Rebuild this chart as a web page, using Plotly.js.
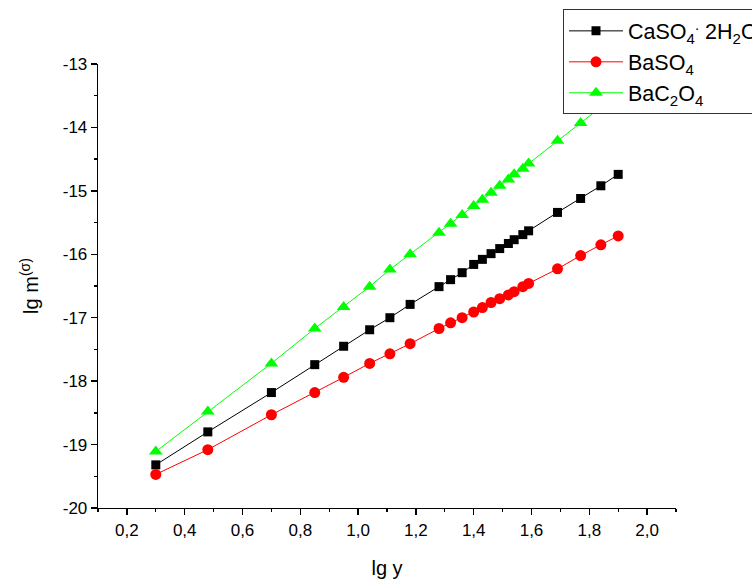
<!DOCTYPE html>
<html>
<head>
<meta charset="utf-8">
<script src="https://cdn.plot.ly/plotly-3.0.1.min.js"></script>
<style>html,body{margin:0;padding:0;background:#fff;overflow:hidden;}#chart{width:752px;height:583px;}</style>
</head>
<body>
<div id="chart"></div>
<script>
// lg y values (shared by all series)
var lgY = [0.30, 0.48, 0.70, 0.85, 0.95, 1.04, 1.11, 1.18, 1.28, 1.32, 1.36, 1.40, 1.43, 1.46, 1.49, 1.52, 1.54, 1.57, 1.59, 1.69, 1.77, 1.84, 1.90];

var caso4 = [-19.32, -18.80, -18.18, -17.74, -17.45, -17.19, -17.00, -16.79, -16.51, -16.40, -16.29, -16.16, -16.08, -15.99, -15.91, -15.83, -15.77, -15.69, -15.63, -15.34, -15.12, -14.92, -14.74];
var baso4 = [-19.47, -19.08, -18.53, -18.18, -17.94, -17.72, -17.57, -17.41, -17.17, -17.08, -17.00, -16.91, -16.84, -16.76, -16.70, -16.64, -16.59, -16.51, -16.46, -16.23, -16.02, -15.85, -15.71];
var bac2o4 = [-19.11, -18.48, -17.72, -17.17, -16.83, -16.51, -16.24, -16.00, -15.66, -15.52, -15.38, -15.24, -15.14, -15.03, -14.92, -14.82, -14.74, -14.65, -14.57, -14.21, -13.93, -13.68, -13.47];

var seriesNames = ["CaSO<sub>4</sub><sup>.</sup> 2H<sub>2</sub>O", "BaSO<sub>4</sub>", "BaC<sub>2</sub>O<sub>4</sub>"];

var xTickVals = [0.2, 0.4, 0.6, 0.8, 1.0, 1.2, 1.4, 1.6, 1.8, 2.0];
var xTickText = ["0,2", "0,4", "0,6", "0,8", "1,0", "1,2", "1,4", "1,6", "1,8", "2,0"];
var yTickVals = [-20, -19, -18, -17, -16, -15, -14, -13];
var yTickText = ["-20", "-19", "-18", "-17", "-16", "-15", "-14", "-13"];

var font = "Arial, 'Liberation Sans', sans-serif";

var traces = [
  {x: lgY, y: caso4, name: seriesNames[0], mode: "lines+markers", type: "scatter",
   line: {color: "#000000", width: 1}, marker: {symbol: "square", size: 9, color: "#000000"}},
  {x: lgY, y: baso4, name: seriesNames[1], mode: "lines+markers", type: "scatter",
   line: {color: "#ff0000", width: 1}, marker: {symbol: "circle", size: 11, color: "#ff0000"}},
  {x: lgY, y: bac2o4, name: seriesNames[2], mode: "lines+markers", type: "scatter",
   line: {color: "#00ff00", width: 1}, marker: {symbol: "triangle-up", size: 12, color: "#00ff00"}}
];

var layout = {
  width: 752, height: 583,
  margin: {l: 98, r: 76, t: 64, b: 75, autoexpand: false},
  paper_bgcolor: "#ffffff", plot_bgcolor: "#ffffff",
  font: {family: font, size: 17, color: "#000"},
  showlegend: true,
  legend: {
    x: 0.8045, y: 1.123, xanchor: "left", yanchor: "top",
    bgcolor: "#ffffff", bordercolor: "#333", borderwidth: 1,
    font: {family: font, size: 21.5, color: "#000"},
    itemwidth: 54, tracegroupgap: 0
  },
  xaxis: {
    range: [0.1, 2.1], showgrid: false, zeroline: false, automargin: false,
    showline: true, linecolor: "#000", linewidth: 1.3, mirror: false,
    ticks: "outside", ticklen: 6, tickwidth: 1.3, tickcolor: "#000",
    tickmode: "array", tickvals: xTickVals, ticktext: xTickText,
    tickfont: {family: font, size: 17, color: "#000"},
    minor: {tickmode: "linear", tick0: 0.1, dtick: 0.1, ticks: "outside", ticklen: 3, tickwidth: 1.3, tickcolor: "#000", showgrid: false},
    title: {text: "lg y", font: {family: font, size: 20, color: "#000"}, standoff: 22}
  },
  yaxis: {
    range: [-20, -13], showgrid: false, zeroline: false, automargin: false,
    showline: true, linecolor: "#000", linewidth: 1.3, mirror: false,
    ticks: "outside", ticklen: 6, tickwidth: 1.3, tickcolor: "#000",
    tickmode: "array", tickvals: yTickVals, ticktext: yTickText,
    tickfont: {family: font, size: 17, color: "#000"},
    minor: {tickmode: "linear", tick0: -20, dtick: 0.5, ticks: "outside", ticklen: 3, tickwidth: 1.3, tickcolor: "#000", showgrid: false},
    title: {text: "lg m<sup>(σ)</sup>", font: {family: font, size: 20, color: "#000"}, standoff: 18}
  }
};

Plotly.newPlot("chart", traces, layout, {staticPlot: true, displayModeBar: false});
</script>
</body>
</html>
